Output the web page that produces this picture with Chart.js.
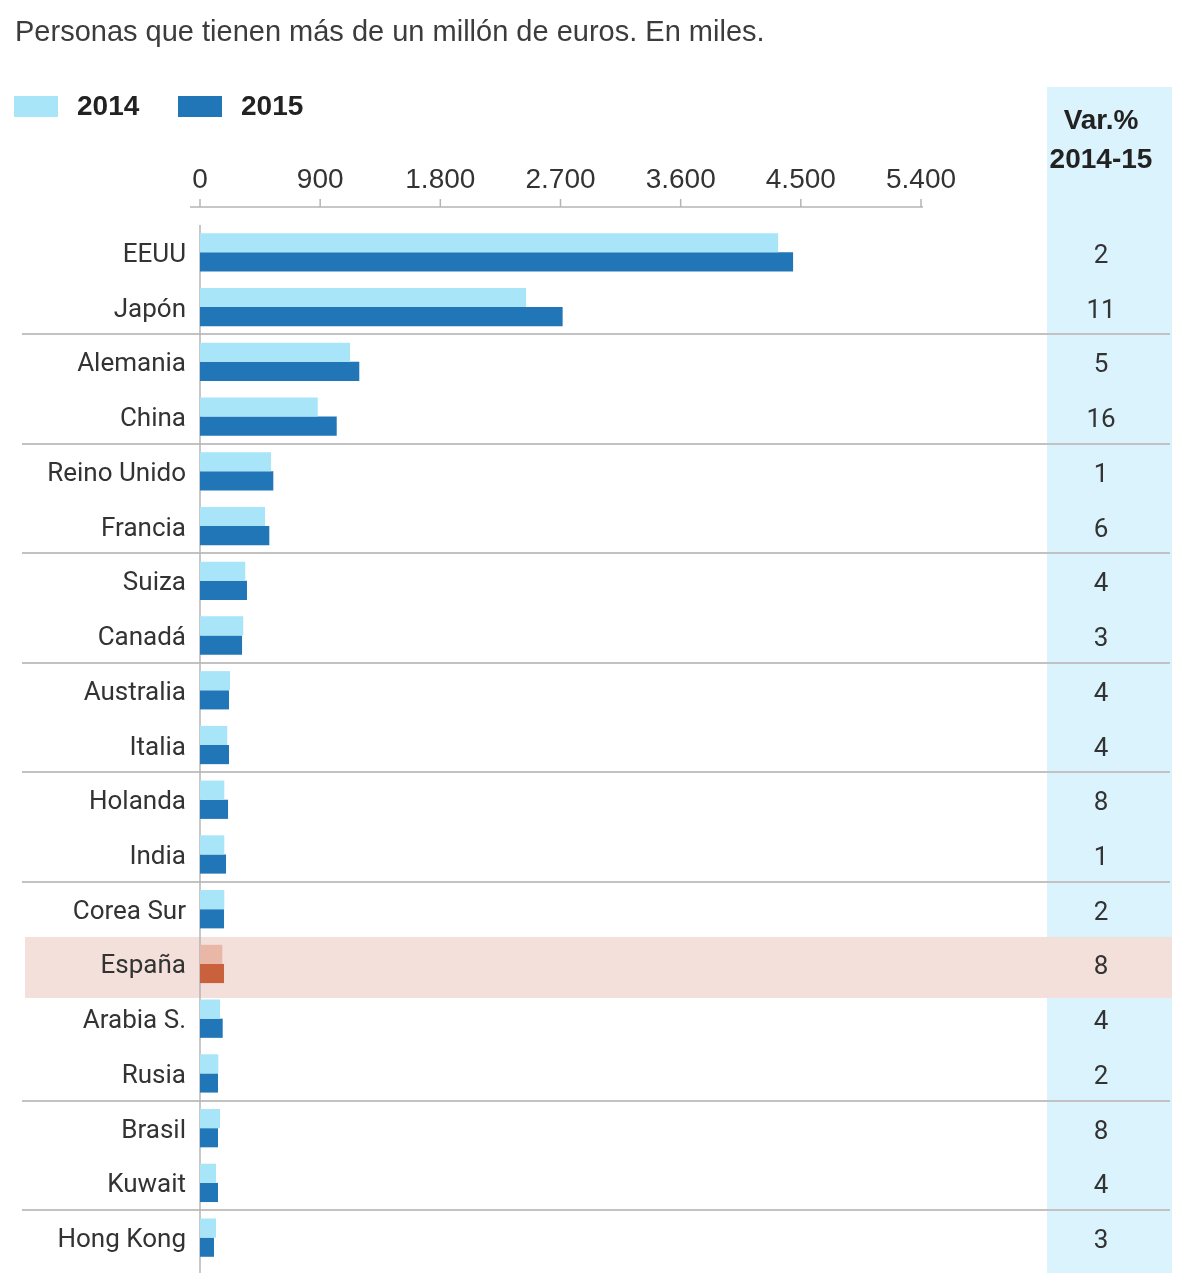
<!DOCTYPE html>
<html>
<head>
<meta charset="utf-8">
<script src="https://cdn.jsdelivr.net/npm/chart.js@4"></script>
<style>
  html, body { margin: 0; padding: 0; background: #fff; }
  #chart { display: block; }
</style>
</head>
<body>
<canvas id="chart" width="1200" height="1273"></canvas>
<script>
// Millonarios por país (miles de personas)
const countries = ['EEUU', 'Japón', 'Alemania', 'China', 'Reino Unido', 'Francia', 'Suiza', 'Canadá',
  'Australia', 'Italia', 'Holanda', 'India', 'Corea Sur', 'España', 'Arabia S.', 'Rusia', 'Brasil',
  'Kuwait', 'Hong Kong'];
const values2014 = [4330, 2442, 1124, 882, 532, 487, 339, 324, 225, 204, 182, 182, 182, 167, 150, 137, 150, 120, 120];
const values2015 = [4442, 2716, 1193, 1024, 549, 519, 352, 315, 217, 217, 210, 195, 180, 180, 170, 135, 135, 135, 105];
const varPct = ['2', '11', '5', '16', '1', '6', '4', '3', '4', '4', '8', '1', '2', '8', '4', '2', '8', '4', '3'];
const xTicks = [0, 900, 1800, 2700, 3600, 4500, 5400];
const groupBreaks = [1, 3, 5, 7, 9, 11, 15, 17]; // línea tras estas filas
const highlight = 'España';

const titleText = 'Personas que tienen más de un millón de euros. En miles.';
const varHeader = ['Var.%', '2014-15'];

const C = {
  light: '#a9e5f8',
  dark: '#2176b8',
  hlLight: '#e8b7a6',
  hlDark: '#c9613d',
  column: '#dbf3fc',
  band: '#f3e0db',
  rule: '#c2c2c2',
  text: '#333333'
};
const SANS = '"Liberation Sans", Arial, sans-serif';
const NARROW = '"Liberation Sans Narrow", "Roboto", sans-serif';

function fmt(v) {
  return String(v).replace(/\B(?=(\d{3})+(?!\d))/g, '.');
}

const decor = {
  id: 'decor',
  beforeDraw(chart) {
    const ctx = chart.ctx;
    const y = chart.scales.y;
    const H = chart.height;
    ctx.save();
    // columna de variación
    ctx.fillStyle = C.column;
    ctx.fillRect(1047, 87, 125, H - 87);

    // título
    ctx.fillStyle = '#3c3c3c';
    ctx.font = '29px ' + SANS;
    ctx.textBaseline = 'middle';
    ctx.textAlign = 'left';
    ctx.fillText(titleText, 15, 33);

    // leyenda
    const ds = chart.data.datasets;
    const legendX = [14, 178];
    ds.forEach((d, i) => {
      ctx.fillStyle = i === 0 ? C.light : C.dark;
      ctx.fillRect(legendX[i], 96, 44, 21);
      ctx.fillStyle = '#222';
      ctx.font = 'bold 28px ' + SANS;
      ctx.fillText(d.label, legendX[i] + 63, 107);
    });

    // banda de España
    const hi = countries.indexOf(highlight);
    const cy = y.getPixelForValue(hi);
    ctx.fillStyle = C.band;
    ctx.fillRect(25, cy - 27, 1147, 61);

    // separadores
    ctx.strokeStyle = C.rule;
    ctx.lineWidth = 2;
    groupBreaks.forEach(i => {
      const yy = Math.round((y.getPixelForValue(i) + y.getPixelForValue(i + 1)) / 2);
      ctx.beginPath();
      ctx.moveTo(22, yy);
      ctx.lineTo(1170, yy);
      ctx.stroke();
    });
    ctx.restore();
  },
  beforeDatasetsDraw(chart) {
    const ctx = chart.ctx;
    const x = chart.scales.x;
    const x0 = x.getPixelForValue(0);
    ctx.save();
    ctx.strokeStyle = '#b5b5b5';
    ctx.lineWidth = 1.5;
    // eje vertical
    ctx.beginPath();
    ctx.moveTo(x0, chart.chartArea.top);
    ctx.lineTo(x0, chart.height);
    ctx.stroke();
    // eje superior con marcas
    const ay = 207;
    ctx.beginPath();
    ctx.moveTo(x0 - 10, ay);
    ctx.lineTo(x.getPixelForValue(5400) + 2, ay);
    xTicks.forEach(v => {
      const px = x.getPixelForValue(v);
      ctx.moveTo(px, ay);
      ctx.lineTo(px, ay - 8);
    });
    ctx.stroke();
    ctx.restore();
  },
  afterDatasetsDraw(chart) {
    const ctx = chart.ctx;
    const y = chart.scales.y;
    ctx.save();
    ctx.fillStyle = '#222';
    ctx.textAlign = 'center';
    ctx.textBaseline = 'middle';
    ctx.font = 'bold 28px ' + SANS;
    ctx.fillText(varHeader[0], 1101, 121);
    ctx.fillText(varHeader[1], 1101, 160);
    ctx.fillStyle = C.text;
    ctx.font = '26px ' + NARROW;
    varPct.forEach((v, i) => {
      ctx.fillText(v, 1101, y.getPixelForValue(i) + 4);
    });
    ctx.restore();
  }
};

const barColor = (base, hl) => (c) => countries[c.dataIndex] === highlight ? hl : base;

new Chart(document.getElementById('chart'), {
  type: 'bar',
  data: {
    labels: countries,
    datasets: [
      { label: '2014', data: values2014, backgroundColor: barColor(C.light, C.hlLight) },
      { label: '2015', data: values2015, backgroundColor: barColor(C.dark, C.hlDark) }
    ]
  },
  options: {
    indexAxis: 'y',
    responsive: false,
    animation: false,
    devicePixelRatio: 1,
    layout: { padding: { top: 140, left: 0, right: 279, bottom: 8 } },
    datasets: {
      bar: { categoryPercentage: 0.7, barPercentage: 1.0, borderWidth: 0 }
    },
    scales: {
      x: {
        type: 'linear',
        position: 'top',
        min: 0,
        max: 5400,
        afterBuildTicks: (scale) => { scale.ticks = xTicks.map(v => ({ value: v })); },
        afterFit: (scale) => { scale.height = 85; },
        grid: { display: false, drawTicks: false },
        border: { display: false },
        ticks: {
          padding: 28,
          color: C.text,
          font: { family: SANS, size: 28 },
          maxRotation: 0,
          callback: (v) => fmt(v)
        }
      },
      y: {
        afterFit: (scale) => {
          scale.width = 200;
          // sin relleno extra arriba/abajo por las etiquetas
          scale.paddingTop = 0;
          scale.paddingBottom = 0;
        },
        grid: { display: false, drawTicks: false },
        border: { display: false },
        ticks: {
          padding: 14,
          labelOffset: 3,
          color: C.text,
          font: { family: NARROW, size: 26 }
        }
      }
    },
    plugins: {
      legend: { display: false },
      title: { display: false },
      tooltip: { enabled: false }
    }
  },
  plugins: [decor]
});
</script>
</body>
</html>
